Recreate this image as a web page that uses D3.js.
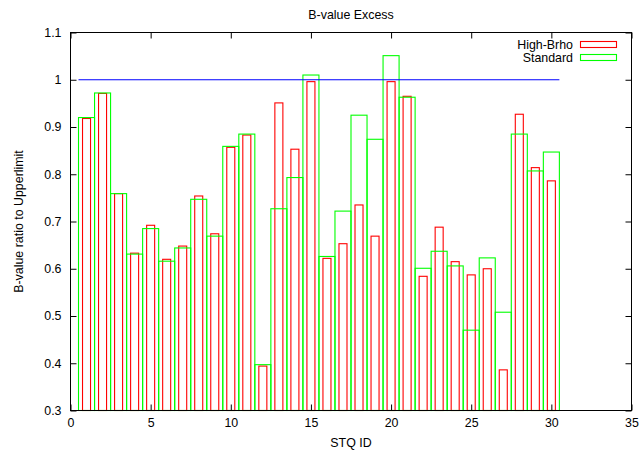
<!DOCTYPE html>
<html>
<head>
<meta charset="utf-8">
<script src="https://cdn.jsdelivr.net/npm/d3@7"></script>
<style>
  html, body { margin: 0; padding: 0; background: #fff; }
  svg { display: block; font-family: "Liberation Sans", Arial, sans-serif; }
  text { fill: #000; }
</style>
</head>
<body>
<svg id="chart" width="640" height="457"></svg>
<script>
// STQ identifiers and the B-value ratio to the upper limit for each optics setting
const stqIds = [1,2,3,4,5,6,7,8,9,10,11,12,13,14,15,16,17,18,19,20,21,22,23,24,25,26,27,28,29,30];
const highBrho = [0.918,0.971,0.759,0.633,0.692,0.620,0.648,0.754,0.674,0.857,0.883,0.394,0.951,0.853,0.996,0.622,0.653,0.735,0.669,0.996,0.965,0.584,0.688,0.615,0.587,0.600,0.386,0.927,0.814,0.786];
const standard = [0.920,0.972,0.759,0.631,0.685,0.616,0.644,0.747,0.669,0.859,0.885,0.397,0.727,0.793,1.010,0.626,0.722,0.925,0.874,1.051,0.963,0.601,0.637,0.606,0.470,0.623,0.508,0.885,0.807,0.847];
const upperLimit = 1.0;
const upperLimitRange = [0.5, 30.5];

const xTicks = [0,5,10,15,20,25,30,35];
const yTicks = [0.3,0.4,0.5,0.6,0.7,0.8,0.9,1.0,1.1];

const seriesList = [
  { name: "High-Brho", values: highBrho, color: "#ff0000", width: 0.5 },
  { name: "Standard",  values: standard, color: "#00ff00", width: 1.0 }
];

const FONT_SIZE = 12.4;
const svg = d3.select("#chart");
const plotLeft = 70.5, plotRight = 631.5, plotTop = 32.5, plotBottom = 410.5;

const x = d3.scaleLinear().domain([0, 35]).range([plotLeft, plotRight]);
const y = d3.scaleLinear().domain([0.3, 1.1]).range([plotBottom, plotTop]);

// Outlined boxes, one series after the other
const plot = svg.append("g");
seriesList.forEach(s => {
  plot.append("g")
    .selectAll("rect")
    .data(stqIds.map((id, i) => ({ id, v: s.values[i] })))
    .join("rect")
    .attr("x", d => x(d.id - s.width / 2))
    .attr("width", d => x(d.id + s.width / 2) - x(d.id - s.width / 2))
    .attr("y", d => y(d.v))
    .attr("height", d => y(0.3) - y(d.v))
    .attr("fill", "none")
    .attr("stroke", s.color)
    .attr("stroke-width", 1.1);
});

// Upper limit reference line
plot.append("line")
  .attr("x1", x(upperLimitRange[0]))
  .attr("x2", x(upperLimitRange[1]))
  .attr("y1", y(upperLimit))
  .attr("y2", y(upperLimit))
  .attr("stroke", "#0000ff")
  .attr("stroke-width", 1.1);

// Axes with inward ticks, mirrored on top and right
const fmt = d => String(+d.toFixed(1));
const styleAxis = g => {
  g.attr("font-family", null);
  g.select(".domain").remove();
  g.selectAll(".tick line").attr("stroke", "#000");
  g.selectAll(".tick text").attr("font-size", FONT_SIZE).attr("fill", "#000");
};

svg.append("g").attr("transform", `translate(0,${plotBottom})`)
  .call(d3.axisBottom(x).tickValues(xTicks).tickFormat(fmt).tickSizeInner(-6).tickSizeOuter(0).tickPadding(8))
  .call(styleAxis);

svg.append("g").attr("transform", `translate(0,${plotTop})`)
  .call(d3.axisTop(x).tickValues(xTicks).tickFormat("").tickSizeInner(-6).tickSizeOuter(0))
  .call(styleAxis);

svg.append("g").attr("transform", `translate(${plotLeft},0)`)
  .call(d3.axisLeft(y).tickValues(yTicks).tickFormat(fmt).tickSizeInner(-6).tickSizeOuter(0).tickPadding(9))
  .call(styleAxis);

svg.append("g").attr("transform", `translate(${plotRight},0)`)
  .call(d3.axisRight(y).tickValues(yTicks).tickFormat("").tickSizeInner(-6).tickSizeOuter(0))
  .call(styleAxis);

// Plot border
svg.append("rect")
  .attr("x", plotLeft).attr("y", plotTop)
  .attr("width", plotRight - plotLeft).attr("height", plotBottom - plotTop)
  .attr("fill", "none").attr("stroke", "#000").attr("stroke-width", 1);

// Titles
svg.append("text")
  .attr("x", (plotLeft + plotRight) / 2).attr("y", 18.5)
  .attr("text-anchor", "middle").attr("font-size", FONT_SIZE)
  .text("B-value Excess");

svg.append("text")
  .attr("x", (plotLeft + plotRight) / 2).attr("y", 446.5)
  .attr("text-anchor", "middle").attr("font-size", FONT_SIZE)
  .text("STQ ID");

svg.append("text")
  .attr("transform", `translate(22.5,${(plotTop + plotBottom) / 2}) rotate(-90)`)
  .attr("text-anchor", "middle").attr("font-size", FONT_SIZE)
  .text("B-value ratio to Upperlimit");

// Legend
const legend = svg.append("g");
seriesList.forEach((s, i) => {
  const cy = 44.5 + i * 13;
  legend.append("text")
    .attr("x", 573).attr("y", cy + 4.2)
    .attr("text-anchor", "end").attr("font-size", FONT_SIZE)
    .text(s.name);
  legend.append("rect")
    .attr("x", 580.5).attr("y", cy - 3)
    .attr("width", 36).attr("height", 6)
    .attr("fill", "none").attr("stroke", s.color).attr("stroke-width", 1.1);
});
</script>
</body>
</html>
